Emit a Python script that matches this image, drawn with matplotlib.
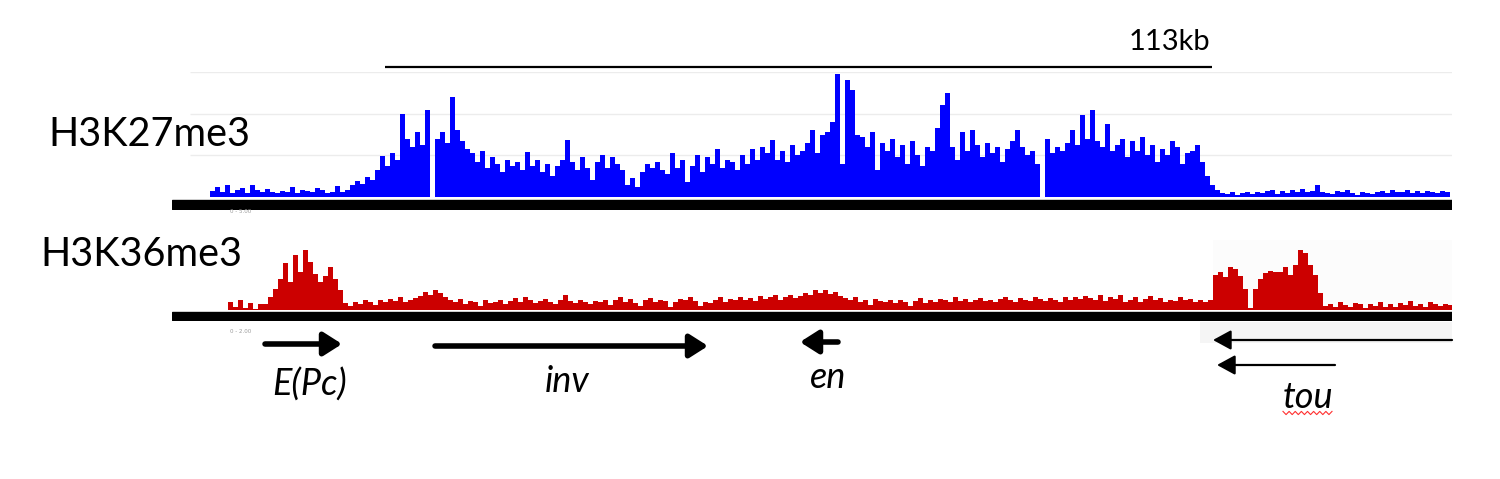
import numpy as np
import matplotlib
matplotlib.use('Agg')
import matplotlib.pyplot as plt

# browser view: 113 kb scale bar spans 827 screen px
KB_PER_PX = 113 / 827.0
BIN = 5 * KB_PER_PX
VIEW_KB = 1280 * KB_PER_PX

# H3K27me3 coverage (5px bins), grid lines at 10/20/30
k27_start = 38 * KB_PER_PX
k27 = [1.5, 2.5, 1.2, 2.8, 1.0, 1.6, 2.2, 1.0, 2.9, 1.8, 1.3, 2.0, 1.1, 0.9, 1.5, 1.2, 2.4, 1.0, 1.8, 1.4,
       1.1, 2.1, 1.6, 0.9, 1.3, 2.6, 1.2, 1.8,
       2.8, 3.9, 3.2, 4.8, 4.1,
       6.5, 9.8, 7.5, 10.5, 8.8,
       20.0, 14.0, 12.0, 15.5, 12.5, 21.0, 0.0, 14.0,
       15.5, 13.0, 24.0, 16.0, 13.5, 11.5,
       10.5, 8.5, 11.0, 7.0, 9.5, 8.0, 6.0, 9.0, 7.5, 8.5, 6.5, 10.8, 7.5, 9.0, 6.0, 8.0, 5.0, 7.5, 9.0, 13.6,
       8.5, 6.5, 9.5, 7.0, 4.0, 8.5, 10.0, 7.0, 9.5, 8.0,
       6.5, 3.0, 4.5, 2.5, 6.0, 8.0, 7.0, 8.5, 6.5, 5.5, 10.5, 7.0, 9.0, 3.5, 7.5, 10.0,
       6.0, 9.5, 8.0, 11.6, 7.0, 9.0, 8.5, 6.5, 10.0, 8.0, 11.5, 9.0, 12.0, 10.5, 13.6, 9.0, 11.0, 8.5, 12.5, 10.0,
       11.0, 13.0, 16.0, 10.5, 14.8, 15.5,
       18.0, 29.6, 8.0, 28.0, 25.6, 15.0,
       14.5, 12.0, 15.5, 6.5, 13.0, 11.0, 14.0, 9.5, 12.5, 8.0, 13.5, 10.0, 7.5, 12.0, 11.0, 16.5,
       22.0, 25.0,
       12.0, 9.0, 15.6, 11.0, 16.0, 12.5, 9.5, 13.0, 10.5, 12.0, 8.5, 11.5, 13.5, 16.0, 12.0, 10.0, 11.0, 8.0,
       0.0,
       14.0, 10.5, 12.0, 11.0, 13.0, 16.0, 12.5, 19.6, 14.0, 21.0, 13.5, 12.0, 17.6, 11.0, 12.5, 14.0, 9.5, 13.5,
       11.0, 14.4, 10.0, 12.5, 8.5, 11.5, 10.0, 13.5, 12.0, 8.0, 10.5, 11.0, 12.5,
       8.5, 5.0, 3.0,
       1.6, 1.0, 0.8, 1.2, 0.6, 1.0, 1.3, 0.7, 1.1, 0.9, 1.5, 1.8, 0.8, 1.4, 1.0, 1.6, 1.2, 1.9, 1.1, 1.5,
       2.8, 1.3, 1.0, 0.8, 1.4, 1.1, 1.6, 0.9, 0.6, 1.3, 1.0, 0.8, 1.2, 1.5, 1.0, 1.7, 1.3, 1.1, 1.6, 1.0,
       1.4, 0.9, 1.5, 1.2, 1.0, 1.4, 1.1]

# H3K36me3 coverage (5px bins)
k36_start = 56 * KB_PER_PX
k36 = [1.2, 0.4, 1.5, 0.3, 1.0, 0.2, 0.8,
       0.8, 1.8, 3.0,
       4.5, 6.7, 4.0, 7.9, 5.5, 8.6, 6.8, 5.2, 4.0, 4.8, 6.2, 4.5, 2.9,
       1.0, 0.6, 1.2, 0.9, 1.4, 1.1, 0.7, 1.5, 1.2, 1.6,
       1.3, 1.8, 1.1, 1.5, 1.7, 2.0, 2.6, 2.2, 2.9, 2.4,
       1.9, 1.4, 1.2, 1.6, 0.9, 1.3, 1.1, 0.6, 1.4, 1.0,
       1.2, 1.5, 0.8, 1.3, 1.7, 1.1, 1.9, 1.4, 1.0, 1.3,
       1.6, 1.2, 0.9, 1.4, 2.1, 1.3, 1.0, 1.5, 1.2, 0.8,
       1.3, 1.1, 1.5, 0.7, 1.4, 1.8, 1.2, 1.6, 1.0, 0.6,
       1.4, 1.7, 1.1, 1.5, 1.3, 0.5, 1.2, 1.6, 1.4, 1.9,
       1.3, 0.6, 1.1, 1.0, 1.5, 1.8, 1.2, 1.6, 1.4, 1.9,
       1.5, 1.7, 1.3, 2.0, 1.6, 1.8, 2.1, 1.4, 1.9, 2.2,
       1.7, 2.0, 2.4, 2.1, 2.8, 2.5, 2.9, 2.3, 2.6, 2.0,
       1.7, 1.4, 1.8, 1.2, 1.5, 0.7, 1.6, 1.3, 1.1, 1.4,
       1.0, 1.5, 1.2, 0.6, 1.3, 1.7, 1.0, 1.4, 1.2, 1.6,
       1.5, 1.1, 1.8, 1.3, 1.6, 1.2, 1.4, 1.7, 1.3, 1.5,
       1.1, 1.6, 1.9, 1.4, 1.2, 1.7, 1.5, 1.3, 1.8, 1.6,
       1.3, 1.7, 1.4, 1.2, 1.8, 1.5, 1.9, 1.6, 2.0, 1.7,
       1.4, 2.1, 1.3, 1.8, 1.6, 2.2, 1.2, 1.5, 1.9, 1.1,
       1.6, 2.0, 1.4, 1.7, 1.2, 1.5, 1.3, 1.8, 1.4, 1.6,
       1.2, 1.5, 1.1, 1.4,
       5.0, 5.5, 4.7, 6.2, 5.8, 4.8, 3.0,
       0.3,
       3.0, 4.5, 5.3, 5.6, 5.4, 5.5, 6.2, 5.0, 6.5, 8.6, 8.1, 6.4, 5.0, 2.5,
       0.6, 0.9, 0.4, 1.1, 0.7, 0.5, 1.0, 0.8, 0.3, 0.9, 0.6, 1.2, 0.5, 0.8, 0.4, 1.0, 0.7, 1.3, 0.6, 0.9,
       0.5, 1.1, 0.8, 0.6, 0.9, 0.7]

# genes (kb in view), strand
gene_names = ['E(Pc)', 'inv', 'en', 'tou', 'tou']
gene_start = [12.71, 35.94, 85.81, 142.24, 142.79]
gene_end = [23.23, 73.24, 91.00, 174.90, 158.91]
gene_strand = ['+', '+', '-', '-', '-']

W, H = 1500, 479
fig = plt.figure(figsize=(W / 100, H / 100), dpi=100)


def px_axes(x0, x1, ytop, ybot):
    return fig.add_axes([x0 / W, 1 - ybot / H, (x1 - x0) / W, (ybot - ytop) / H])


def clean(ax):
    for s in ax.spines.values():
        s.set_visible(False)
    ax.set_xticks([])
    ax.set_yticks([])
    ax.patch.set_alpha(0)


# ---- H3K27me3 track
ax1 = px_axes(172, 1452, 72, 209.5)
clean(ax1)
ax1.set_xlim(0, VIEW_KB)
ax1.set_ylim(-3, 30)
for g in (10, 20, 30):
    ax1.hlines(g, 18 * KB_PER_PX, VIEW_KB, color='#ececec', lw=1, zorder=0)
x27 = k27_start + np.arange(len(k27)) * BIN
ax1.bar(x27, k27, width=BIN, align='edge', color='#0000ff', linewidth=0, zorder=2)
ax1.axhspan(-2.9, -0.7, color='black', zorder=3)

# ---- H3K36me3 track
ax2 = px_axes(172, 1452, 240, 320.5)
clean(ax2)
ax2.set_xlim(0, VIEW_KB)
ax2.set_ylim(-1.5, 10)
ax2.fill_between([1041 * KB_PER_PX, VIEW_KB], 0, 10, color='#fcfcfc', lw=0, zorder=0)
x36 = k36_start + np.arange(len(k36)) * BIN
ax2.bar(x36, k36, width=BIN, align='edge', color='#cc0000', linewidth=0, zorder=2)
ax2.axhspan(-1.45, -0.3, color='black', zorder=3)

# ---- genes
ax3 = px_axes(172, 1452, 321, 479)
clean(ax3)
ax3.set_xlim(0, VIEW_KB)
ax3.set_ylim(479, 321)
ax3.fill_between([1028 * KB_PER_PX, VIEW_KB], 322, 343, color='#f5f5f5', lw=0, zorder=0)

rows = [344, 346, 342, 340, 365]
thick = [True, True, True, False, False]
for s, e, strand, y, t in zip(gene_start, gene_end, gene_strand, rows, thick):
    a, b = (s, e) if strand == '+' else (e, s)
    if t:
        style = '-|>,head_length=0.55,head_width=0.35'
        lw = 4
    else:
        style = '-|>,head_length=0.55,head_width=0.3'
        lw = 1.6
    ax3.annotate('', xy=(b, y), xytext=(a, y),
                 arrowprops=dict(arrowstyle=style, lw=lw, color='black',
                                 mutation_scale=20, shrinkA=0, shrinkB=0))

label_x = [310, 567, 828, 1308]
label_y = [385, 382, 378, 398]
for name, lx, ly in zip(gene_names[:4], label_x, label_y):
    ax3.text((lx - 172) * KB_PER_PX, ly, name, ha='center', va='center',
             fontsize=26, style='italic', family=['Lato', 'DejaVu Sans'])

# spell-check squiggle under "tou"
sq_x = np.linspace((1283 - 172) * KB_PER_PX, (1332 - 172) * KB_PER_PX, 17)
sq_y = 413 + 1.6 * np.where(np.arange(17) % 2 == 0, -1, 1)
ax3.plot(sq_x, sq_y, color='#ff3030', lw=0.8)

# ---- scale bar
ax0 = px_axes(172, 1452, 20, 72)
clean(ax0)
ax0.set_xlim(0, VIEW_KB)
ax0.set_ylim(72, 20)
ax0.hlines(66.5, (385 - 172) * KB_PER_PX, (1212 - 172) * KB_PER_PX, color='black', lw=1.6)
ax0.text((1169 - 172) * KB_PER_PX, 42, '113kb', ha='center', va='center',
         fontsize=21, family=['Lato', 'DejaVu Sans'])

# ---- track names and range labels
fig.text(48 / W, 1 - 135 / H, 'H3K27me3', ha='left', va='center', fontsize=28.5,
         family=['Lato', 'DejaVu Sans'])
fig.text(40 / W, 1 - 254 / H, 'H3K36me3', ha='left', va='center', fontsize=28.5,
         family=['Lato', 'DejaVu Sans'])
fig.text(230 / W, 1 - 213 / H, '0 - 5.00', fontsize=4, color='#9a9a9a')
fig.text(230 / W, 1 - 333 / H, '0 - 2.00', fontsize=4, color='#9a9a9a')

fig.savefig('out.png', dpi=100)
